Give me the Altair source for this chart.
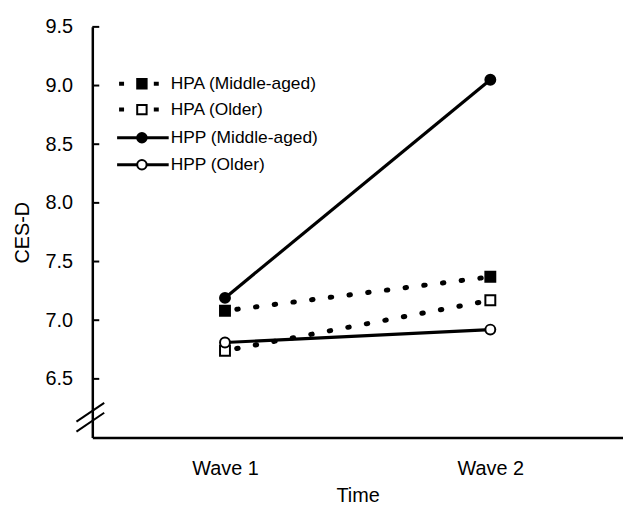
import altair as alt
import pandas as pd

# ---- data ----
waves = ["Wave 1", "Wave 2"]
series = ["HPA (Middle-aged)", "HPA (Older)", "HPP (Middle-aged)", "HPP (Older)"]
hpa_mid = [7.08, 7.37]
hpa_old = [6.74, 7.17]
hpp_mid = [7.19, 9.05]
hpp_old = [6.81, 6.92]
y_ticks = [6.5, 7.0, 7.5, 8.0, 8.5, 9.0, 9.5]
legend_rows = [9.015, 8.795, 8.555, 8.325]

values = [hpa_mid, hpa_old, hpp_mid, hpp_old]
shapes = ["square", "square", "circle", "circle"]
fills = ["black", "white", "black", "white"]
styles = ["dashed", "dashed", "solid", "solid"]

rows = []
for s, v, sh, f, st in zip(series, values, shapes, fills, styles):
    for w, val in zip(waves, v):
        rows.append({"series": s, "wave": w, "value": val, "shape": sh, "fill": f, "style": st})
df = pd.DataFrame(rows)

leg = pd.DataFrame({"series": series, "value": legend_rows, "shape": shapes, "fill": fills, "style": styles})
ticks_df = pd.DataFrame({"value": y_ticks})

FONT = "Liberation Sans"
yscale = alt.Scale(domain=[6.0, 9.5], nice=False, zero=False)
yaxis = alt.Axis(values=y_ticks, format=".1f", tickSize=0, labelPadding=20,
                 domainWidth=2.5, domainColor="black", grid=False, labelFontSize=20,
                 title="CES-D", titleFontSize=20, titleFontWeight="normal",
                 titlePadding=13)
Y = alt.Y("value:Q", scale=yscale, axis=yaxis, title="CES-D")

xaxis = alt.Axis(labelAngle=0, tickSize=0, domainWidth=2.5, domainColor="black",
                 labelPadding=21, labelFontSize=20, title="Time", titleFontSize=20,
                 titleFontWeight="normal", titlePadding=7, grid=False)
X = alt.X("wave:N", sort=waves, scale=alt.Scale(type="point", padding=0.5), axis=xaxis, title="Time")

dashed_lines = alt.Chart(df).transform_filter(alt.datum.style == "dashed").mark_line(
    color="black", strokeWidth=5, strokeCap="round", strokeDash=[1.5, 17.5], strokeDashOffset=-12
).encode(x=X, y=Y, detail="series:N")

solid_lines = alt.Chart(df).transform_filter(alt.datum.style == "solid").mark_line(
    color="black", strokeWidth=3.2
).encode(x=X, y=Y, detail="series:N")

points = alt.Chart(df).mark_point(size=100, stroke="black", strokeWidth=2, opacity=1,
                                  filled=False).encode(
    x=X, y=Y,
    shape=alt.Shape("shape:N", scale=None),
    fill=alt.Fill("fill:N", scale=None),
)

ticks = alt.Chart(ticks_df).mark_rule(color="black", strokeWidth=2).encode(
    y=Y, x=alt.value(0), x2=alt.value(7),
)

leg_dash = alt.Chart(leg).transform_filter(alt.datum.style == "dashed").mark_rule(
    color="black", strokeWidth=4, strokeDash=[5, 30]).encode(
    y=Y, x=alt.value(27), x2=alt.value(67))
leg_solid = alt.Chart(leg).transform_filter(alt.datum.style == "solid").mark_rule(
    color="black", strokeWidth=3).encode(
    y=Y, x=alt.value(25), x2=alt.value(77))
leg_pts = alt.Chart(leg).mark_point(size=90, stroke="black", strokeWidth=2, opacity=1).encode(
    y=Y, x=alt.value(50),
    shape=alt.Shape("shape:N", scale=None), fill=alt.Fill("fill:N", scale=None))
leg_txt = alt.Chart(leg).mark_text(align="left", baseline="middle", fontSize=17.5, font=FONT,
                                   color="black").encode(
    y=Y, x=alt.value(79), text="series:N")

brk = pd.DataFrame({"k": [0]})
break1 = alt.Chart(brk).mark_rule(color="black", strokeWidth=2).encode(
    x=alt.value(-16), x2=alt.value(12), y=alt.value(398), y2=alt.value(379))
break2 = alt.Chart(brk).mark_rule(color="black", strokeWidth=2).encode(
    x=alt.value(-16), x2=alt.value(12), y=alt.value(408), y2=alt.value(389))

chart = alt.layer(dashed_lines, solid_lines, points, ticks, leg_dash, leg_solid, leg_pts,
                  leg_txt, break1, break2).properties(
    width=535, height=414,
    autosize=alt.AutoSizeParams(type="none"),
    padding={"left": 85, "top": 17, "right": 0, "bottom": 68},
).configure_view(stroke=None).configure_axis(
    labelFont=FONT, titleFont=FONT, labelColor="black", titleColor="black"
)

chart.save("out.html", embed_options={"renderer": "svg", "actions": False})
